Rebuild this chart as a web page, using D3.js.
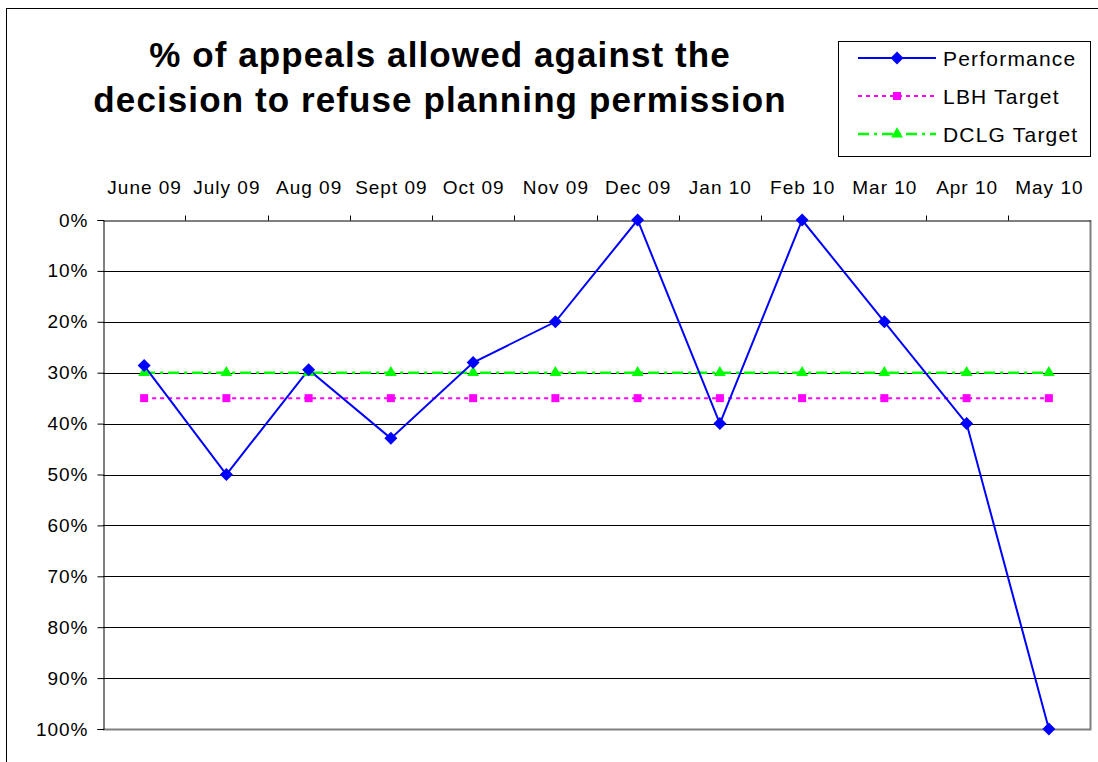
<!DOCTYPE html>
<html><head><meta charset="utf-8">
<script src="https://cdn.jsdelivr.net/npm/d3@7"></script>
<style>
body{margin:0;background:#fff;}
text{font-family:"Liberation Sans",Arial,sans-serif;}
</style></head>
<body><svg id="chart" width="1098" height="762"></svg>
<script>
const categories = ["June 09","July 09","Aug 09","Sept 09","Oct 09","Nov 09","Dec 09","Jan 10","Feb 10","Mar 10","Apr 10","May 10"];
const performance = [28.6,50,29.4,42.9,28.0,20,0,40,0,20,40,100];
const lbhTarget = [35,35,35,35,35,35,35,35,35,35,35,35];
const dclgTarget = [30,30,30,30,30,30,30,30,30,30,30,30];
const yTicks = [0,10,20,30,40,50,60,70,80,90,100];
const titleLines = ["% of appeals allowed against the","decision to refuse planning permission"];

const svg = d3.select("#chart");
const L=103, R=1090, T=220, B=729;

// outer border
svg.append("rect").attr("x",6.5).attr("y",8.5).attr("width",1100).attr("height",800)
  .attr("fill","none").attr("stroke","#000").attr("stroke-width",1);

const x = d3.scaleBand().domain(categories).range([L,R]);
const y = d3.scaleLinear().domain([0,100]).range([T,B]);
const cx = d => x(d)+x.bandwidth()/2;

// gridlines
svg.append("g").selectAll("line").data(yTicks.filter(t=>t>0&&t<100)).join("line")
  .attr("x1",L).attr("x2",R).attr("y1",d=>Math.round(y(d))+0.5).attr("y2",d=>Math.round(y(d))+0.5)
  .attr("stroke","#000").attr("stroke-width",1);

// plot border right & bottom gray
svg.append("path").attr("d",`M${L},${Math.round(B)+0.5}H${R+0.5}V${T}`).attr("fill","none").attr("stroke","#808080").attr("stroke-width",2);

// top axis
const xAxis = d3.axisTop(x).tickSize(0).tickPadding(0);
const gx = svg.append("g").attr("transform",`translate(0,${T+0.5})`).call(xAxis);
gx.select(".domain").attr("stroke","#000");
gx.selectAll("text").remove();
gx.selectAll(".bnd").data(d3.range(1,categories.length)).join("line")
  .attr("x1",i=>Math.round(L+i*x.step())+0.5).attr("x2",i=>Math.round(L+i*x.step())+0.5)
  .attr("y1",0).attr("y2",-5).attr("stroke","#000");
svg.append("g").selectAll("text").data(categories).join("text")
  .attr("x",d=>cx(d)+0.5).attr("y",194).attr("text-anchor","middle")
  .attr("font-size",19).attr("letter-spacing",1).attr("fill","#000").text(d=>d);

// left axis
const yAxis = d3.axisLeft(y).tickValues(yTicks).tickSize(6).tickPadding(10).tickFormat(d=>d+"%");
const gy = svg.append("g").attr("transform",`translate(${L+0.5},0)`).call(yAxis);
gy.select(".domain").attr("stroke","#000");
gy.selectAll("line").attr("stroke","#000");
gy.selectAll("text").attr("font-size",19).attr("letter-spacing",1).attr("fill","#000")
  .attr("font-family","Liberation Sans, Arial, sans-serif").attr("dx",1);

// lines
const line = d3.line().x((d,i)=>cx(categories[i])).y(d=>y(d));
svg.append("path").datum(lbhTarget).attr("d",line).attr("fill","none")
  .attr("stroke","#FF00FF").attr("stroke-width",2).attr("stroke-dasharray","4,4");
svg.append("path").datum(dclgTarget).attr("d",line).attr("fill","none")
  .attr("stroke","#00FF00").attr("stroke-width",2.5).attr("stroke-dasharray","11,5,3,5");
svg.append("path").datum(performance).attr("d",line).attr("fill","none")
  .attr("stroke","#0000FF").attr("stroke-width",2);

// markers
const sq = d3.symbol().type(d3.symbolSquare).size(64);
const tri = d3.symbol().type(d3.symbolTriangle).size(60);
const dia = "M0,-6.5L6.5,0L0,6.5L-6.5,0Z";
svg.append("g").selectAll("path").data(lbhTarget).join("path")
  .attr("transform",(d,i)=>`translate(${cx(categories[i])},${y(d)})`).attr("d",sq).attr("fill","#FF00FF");
svg.append("g").selectAll("path").data(dclgTarget).join("path")
  .attr("transform",(d,i)=>`translate(${cx(categories[i])},${y(d)})`).attr("d",tri).attr("fill","#00FF00");
svg.append("g").selectAll("path").data(performance).join("path")
  .attr("transform",(d,i)=>`translate(${cx(categories[i])},${y(d)})`).attr("d",dia).attr("fill","#0000FF");

// title
svg.append("g").selectAll("text").data(titleLines).join("text")
  .attr("x",440).attr("y",(d,i)=>67+i*45).attr("text-anchor","middle")
  .attr("font-size",35).attr("letter-spacing",1.1).attr("font-weight","bold").attr("fill","#000").text(d=>d);

// legend
const lg = svg.append("g");
lg.append("rect").attr("x",838.5).attr("y",41.5).attr("width",252).attr("height",115)
  .attr("fill","#fff").attr("stroke","#000");
const legendItems = [
  {name:"Performance",color:"#0000FF",dash:null,sym:dia,w:2},
  {name:"LBH Target",color:"#FF00FF",dash:"4,4",sym:sq(),w:2},
  {name:"DCLG Target",color:"#00FF00",dash:"11,5,3,5",sym:tri(),w:2.5}
];
legendItems.forEach((it,i)=>{
  const yy = 58+i*38;
  lg.append("line").attr("x1",858).attr("x2",936).attr("y1",yy).attr("y2",yy)
    .attr("stroke",it.color).attr("stroke-width",it.w).attr("stroke-dasharray",it.dash);
  lg.append("path").attr("transform",`translate(897,${yy})`).attr("d",it.sym).attr("fill",it.color);
  lg.append("text").attr("x",943).attr("y",yy+7.5).attr("font-size",21).attr("letter-spacing",1.2).attr("fill","#000").text(it.name);
});
</script></body></html>
